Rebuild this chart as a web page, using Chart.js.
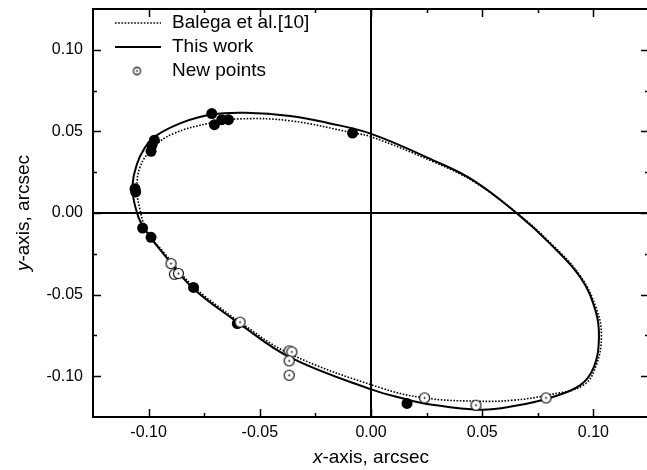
<!DOCTYPE html>
<html>
<head>
<meta charset="utf-8">
<script src="https://cdn.jsdelivr.net/npm/chart.js@4.4.1/dist/chart.umd.min.js"></script>
<style>
  html, body { margin: 0; padding: 0; background: #fff; overflow: hidden; }
  #wrap { width: 655px; height: 470px; }
</style>
</head>
<body>
<div id="wrap"><canvas id="orbitChart" width="655" height="470"></canvas></div>
<script>
// ------------------------------------------------ DATA (arcsec) ------------------------------------------------
// new measurements (open circles)
const newX = [-0.0899, -0.0884, -0.0866, -0.0589, -0.0368, -0.0356, -0.0368, -0.0368, 0.0241, 0.0472, 0.0787];
const newY = [-0.0310, -0.0375, -0.0371, -0.0669, -0.0845, -0.0851, -0.0906, -0.0994, -0.1133, -0.1178, -0.1133];

// older measurements (filled circles)
const oldX = [-0.0716, -0.0704, -0.0671, -0.0641, -0.0083, -0.0974, -0.0985, -0.0989, -0.1061, -0.1058, -0.1027, -0.0989, -0.0798, -0.0601, 0.0162];
const oldY = [0.0609, 0.0541, 0.0572, 0.0572, 0.0490, 0.0446, 0.0415, 0.0378, 0.0149, 0.0129, -0.0092, -0.0149, -0.0456, -0.0677, -0.1167];

// orbit of this work (solid curve), traced around the ellipse
const orbitX = [-0.0604, -0.0799, -0.0934, -0.1009, -0.1046, -0.1072, -0.1054, -0.1016, -0.0964, -0.0844, -0.0716, -0.0566, -0.0364, -0.0184, 0.0001, 0.0280, 0.0460, 0.0658, 0.0806, 0.0941, 0.1009, 0.1025, 0.1002, 0.0941, 0.0806, 0.0649, 0.0491, 0.0239, 0.0162, 0.0001, -0.0368, -0.0604];
const orbitY = [-0.0667, -0.0463, -0.0249, -0.0116, -0.0024, 0.0139, 0.0292, 0.0402, 0.0476, 0.0557, 0.0604, 0.0614, 0.0595, 0.0549, 0.0485, 0.0323, 0.0200, -0.0005, -0.0189, -0.0394, -0.0596, -0.0761, -0.0945, -0.1055, -0.1132, -0.1181, -0.1205, -0.1167, -0.1143, -0.1081, -0.0882, -0.0667];

// orbit of Balega et al. (dotted curve)
const balegaX = [-0.0604, -0.0799, -0.0934, -0.1009, -0.1041, -0.1052, -0.1039, -0.0979, -0.0889, -0.0724, -0.0589, -0.0364, -0.0080, 0.0001, 0.0280, 0.0460, 0.0658, 0.0806, 0.0941, 0.1013, 0.1036, 0.1013, 0.0955, 0.0793, 0.0640, 0.0473, 0.0239, 0.0041, -0.0368, -0.0604];
const balegaY = [-0.0657, -0.0449, -0.0238, -0.0106, 0.0035, 0.0139, 0.0280, 0.0402, 0.0486, 0.0551, 0.0577, 0.0565, 0.0491, 0.0467, 0.0314, 0.0194, -0.0002, -0.0182, -0.0385, -0.0584, -0.0749, -0.0932, -0.1055, -0.1116, -0.1147, -0.1153, -0.1133, -0.1070, -0.0861, -0.0657];

const xMajorTicks = [-0.10, -0.05, 0.00, 0.05, 0.10];
const yMajorTicks = [-0.10, -0.05, 0.00, 0.05, 0.10];

const xTitle = ['x', '-axis, arcsec'];
const yTitle = ['y', '-axis, arcsec'];

// ------------------------------------------------ HELPERS ------------------------------------------------
const FONT = '"Liberation Sans", Arial, Helvetica, sans-serif';

function toXY(xs, ys) {
    return xs.map((x, i) => ({x: x, y: ys[i]}));
}

function isMajor(v, list) {
    return list.some(m => Math.abs(m - v) < 1e-6);
}

// open circle with a small dot in its middle
function makeDotCircle(r) {
    const size = Math.ceil(r * 2 + 3);
    const c = document.createElement('canvas');
    c.width = size;
    c.height = size;
    const g = c.getContext('2d');
    g.beginPath();
    g.arc(size / 2, size / 2, r, 0, Math.PI * 2);
    g.fillStyle = '#ffffff';
    g.fill();
    g.lineWidth = 1.1;
    g.strokeStyle = '#000000';
    g.stroke();
    g.beginPath();
    g.arc(size / 2, size / 2, 0.9, 0, Math.PI * 2);
    g.fillStyle = '#000000';
    g.fill();
    return c;
}

const dotCircle = makeDotCircle(5);
const dotCircleSmall = makeDotCircle(3.6);

function drawTitle(ctx, parts, cx, cy, rotated) {
    ctx.save();
    ctx.translate(cx, cy);
    if (rotated) ctx.rotate(-Math.PI / 2);
    const fonts = ['italic 19px ' + FONT, '19px ' + FONT];
    let total = 0;
    const widths = parts.map((p, i) => {
        ctx.font = fonts[i];
        const w = ctx.measureText(p).width;
        total += w;
        return w;
    });
    let x = -total / 2;
    ctx.fillStyle = '#000';
    ctx.textBaseline = 'middle';
    ctx.textAlign = 'left';
    parts.forEach((p, i) => {
        ctx.font = fonts[i];
        ctx.fillText(p, x, 0);
        x += widths[i];
    });
    ctx.restore();
}

// ------------------------------------------------ FRAME, TICKS, TITLES, LEGEND ------------------------------------------------
const framePlugin = {
    id: 'frame',
    afterDraw(chart) {
        const ctx = chart.ctx;
        const a = chart.chartArea;
        const xs = chart.scales.x;
        const ys = chart.scales.y;
        ctx.save();

        ctx.strokeStyle = '#000';
        ctx.lineWidth = 2;
        ctx.strokeRect(a.left, a.top, a.right - a.left, a.bottom - a.top);

        ctx.lineWidth = 1.5;
        ctx.beginPath();
        xs.ticks.forEach(t => {
            if (t.value <= xs.min + 1e-6 || t.value >= xs.max - 1e-6) return;
            const len = isMajor(t.value, xMajorTicks) ? 8 : 4;
            const px = Math.round(xs.getPixelForValue(t.value)) + 0.5;
            ctx.moveTo(px, a.bottom);
            ctx.lineTo(px, a.bottom - len);
            ctx.moveTo(px, a.top);
            ctx.lineTo(px, a.top + len);
        });
        ys.ticks.forEach(t => {
            if (t.value <= ys.min + 1e-6 || t.value >= ys.max - 1e-6) return;
            const len = isMajor(t.value, yMajorTicks) ? 8 : 4;
            const py = Math.round(ys.getPixelForValue(t.value)) + 0.5;
            ctx.moveTo(a.left, py);
            ctx.lineTo(a.left + len, py);
            ctx.moveTo(a.right, py);
            ctx.lineTo(a.right - len, py);
        });
        ctx.stroke();

        drawTitle(ctx, xTitle, (a.left + a.right) / 2, 458, false);
        drawTitle(ctx, yTitle, 24, (a.top + a.bottom) / 2, true);

        // legend, top left inside the frame
        const ds = chart.data.datasets;
        const rows = [3, 2, 0];
        ctx.font = '19px ' + FONT;
        ctx.textBaseline = 'middle';
        ctx.textAlign = 'left';
        rows.forEach((di, i) => {
            const d = ds[di];
            const y = 23 + i * 24;
            if (d.showLine) {
                ctx.beginPath();
                ctx.setLineDash(d.borderDash || []);
                ctx.lineWidth = d.borderWidth;
                ctx.strokeStyle = d.borderColor;
                ctx.moveTo(115, y);
                ctx.lineTo(161, y);
                ctx.stroke();
                ctx.setLineDash([]);
            } else {
                ctx.drawImage(dotCircleSmall, 137 - dotCircleSmall.width / 2, y - dotCircleSmall.height / 2);
            }
            ctx.fillStyle = '#000';
            ctx.fillText(d.label, 172, y);
        });

        ctx.restore();
    }
};

// drop the room Chart.js keeps for end tick labels, so the frame sits where the reference has it
function noEndPadding(s) {
    s.paddingTop = 0;
    s.paddingBottom = 0;
    s.paddingLeft = 0;
    s.paddingRight = 0;
}

// ------------------------------------------------ CHART ------------------------------------------------
const ctx = document.getElementById('orbitChart').getContext('2d');
const orbitChart = new Chart(ctx, {
    type: 'scatter',
    data: {
        datasets: [
            {
                label: 'New points',
                data: toXY(newX, newY),
                pointStyle: dotCircle,
                pointRadius: 5,
                showLine: false
            },
            {
                label: 'Balega data',
                data: toXY(oldX, oldY),
                pointStyle: 'circle',
                pointRadius: 5.5,
                backgroundColor: '#000000',
                borderColor: '#000000',
                borderWidth: 0,
                showLine: false
            },
            {
                label: 'This work',
                data: toXY(orbitX, orbitY),
                showLine: true,
                borderColor: '#000000',
                borderWidth: 2,
                pointRadius: 0,
                tension: 0.4,
                fill: false
            },
            {
                label: 'Balega et al.[10]',
                data: toXY(balegaX, balegaY),
                showLine: true,
                borderColor: '#000000',
                borderWidth: 1.6,
                borderDash: [1.6, 1.6],
                pointRadius: 0,
                tension: 0.4,
                fill: false
            }
        ]
    },
    options: {
        responsive: false,
        animation: false,
        devicePixelRatio: 1,
        layout: {
            padding: {top: 9, right: 2, left: 0, bottom: 0}
        },
        plugins: {
            legend: {display: false},
            tooltip: {enabled: false}
        },
        scales: {
            x: {
                type: 'linear',
                min: -0.125,
                max: 0.125,
                afterFit: s => { s.height = 53; noEndPadding(s); },
                border: {display: false},
                grid: {
                    drawTicks: false,
                    lineWidth: 2,
                    color: c => (c.tick && Math.abs(c.tick.value) < 1e-6) ? '#000000' : 'rgba(0,0,0,0)'
                },
                ticks: {
                    stepSize: 0.025,
                    padding: 6,
                    color: '#000',
                    font: {family: FONT, size: 16},
                    maxRotation: 0,
                    autoSkip: false,
                    callback: v => isMajor(v, xMajorTicks) ? Number(v).toFixed(2) : ''
                }
            },
            y: {
                type: 'linear',
                min: -0.125,
                max: 0.125,
                afterFit: s => { s.width = 93; noEndPadding(s); },
                border: {display: false},
                grid: {
                    drawTicks: false,
                    lineWidth: 2,
                    color: c => (c.tick && Math.abs(c.tick.value) < 1e-6) ? '#000000' : 'rgba(0,0,0,0)'
                },
                ticks: {
                    stepSize: 0.025,
                    padding: 10,
                    color: '#000',
                    font: {family: FONT, size: 16},
                    autoSkip: false,
                    callback: v => isMajor(v, yMajorTicks) ? Number(v).toFixed(2) : ''
                }
            }
        }
    },
    plugins: [framePlugin]
});
</script>
</body>
</html>
